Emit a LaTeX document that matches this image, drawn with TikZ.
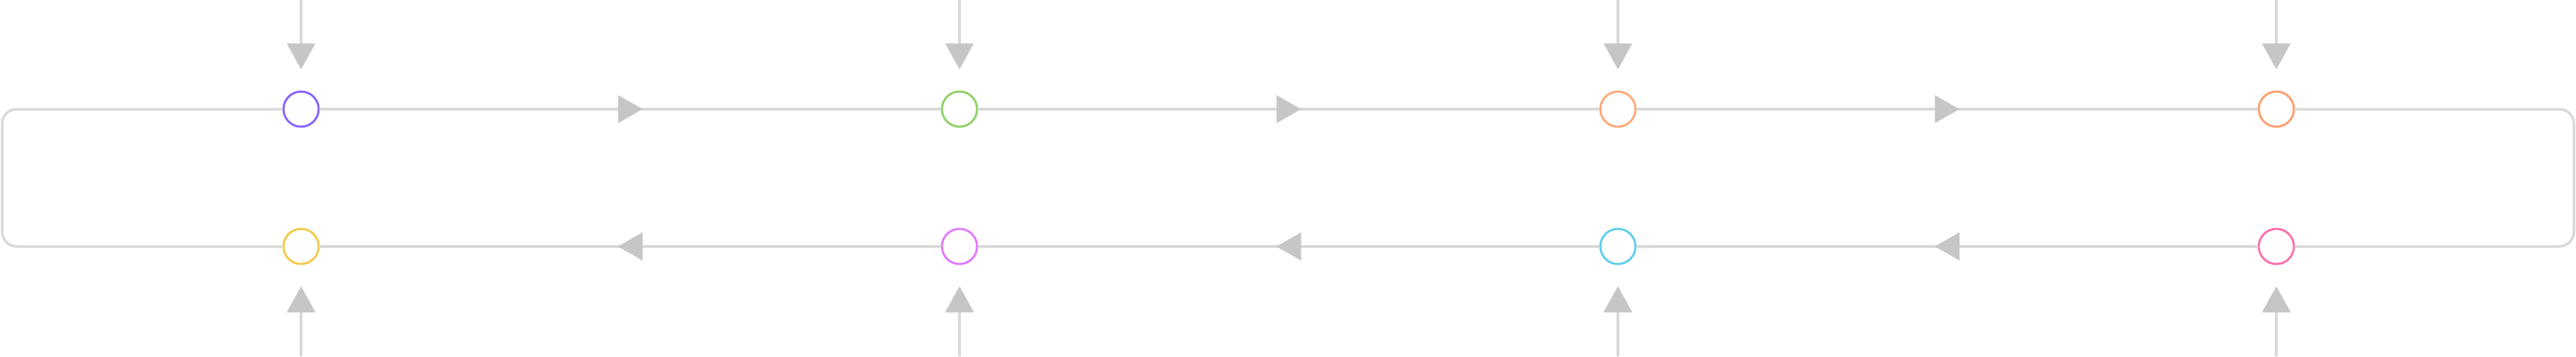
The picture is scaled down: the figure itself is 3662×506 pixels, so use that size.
\documentclass[tikz,border=0pt]{standalone}
\usetikzlibrary{arrows.meta,decorations.markings}
\definecolor{linegray}{HTML}{D8D8D8}
\definecolor{arrowgray}{HTML}{C6C6C6}
\definecolor{cpurple}{HTML}{8A63FF}
\definecolor{cgreen}{HTML}{8FD16A}
\definecolor{corange}{HTML}{FFA878}
\definecolor{corangeb}{HTML}{FF9E70}
\definecolor{cyellow}{HTML}{F5C94A}
\definecolor{cmagenta}{HTML}{E07AFF}
\definecolor{ccyan}{HTML}{5FCFEE}
\definecolor{cpink}{HTML}{FF6FAE}
\tikzset{
  port/.style={circle,draw=#1,line width=3pt,fill=white,minimum size=50pt,inner sep=0pt},
  flow/.style={draw=linegray,line width=3.5pt},
  midarrow/.style={postaction={decorate,decoration={markings,mark=at position 0.5 with {\fill[arrowgray] (-17.5pt,-20pt) -- (17.5pt,0pt) -- (-17.5pt,20pt) -- cycle;}}}},
  feed/.style={draw=linegray,line width=3.5pt,-{Triangle[length=37pt,width=40pt,fill=arrowgray,color=arrowgray]},shorten >=30pt}
}
\begin{document}
\begin{tikzpicture}[x=1pt,y=-1pt]
\useasboundingbox (0,0) rectangle (3662,506);
% loop lines first (under circles)
\coordinate (tl) at (3,155);
\coordinate (bl) at (3,350);
\coordinate (tr) at (3659,155);
\coordinate (br) at (3659,350);
\node[port=cpurple] (c1) at (428,155) {};
\node[port=cgreen] (c2) at (1364,155) {};
\node[port=corange] (c3) at (2300,155) {};
\node[port=corangeb] (c4) at (3236,155) {};
\node[port=cyellow] (c5) at (428,350) {};
\node[port=cmagenta] (c6) at (1364,350) {};
\node[port=ccyan] (c7) at (2300,350) {};
\node[port=cpink] (c8) at (3236,350) {};
\begin{scope}[on background layer/.try]
\end{scope}
\draw[flow,midarrow] (c1) -- (c2);
\draw[flow,midarrow] (c2) -- (c3);
\draw[flow,midarrow] (c3) -- (c4);
\draw[flow,midarrow] (c8) -- (c7);
\draw[flow,midarrow] (c7) -- (c6);
\draw[flow,midarrow] (c6) -- (c5);
\draw[flow,rounded corners=21pt] (c1.west) -- (tl) -- (bl) -- (c5.west);
\draw[flow,rounded corners=21pt] (c4.east) -- (tr) -- (br) -- (c8.east);
% feeds
\coordinate (f1) at (428,0);
\coordinate (f2) at (1364,0);
\coordinate (f3) at (2300,0);
\coordinate (f4) at (3236,0);
\coordinate (g1) at (428,506);
\coordinate (g2) at (1364,506);
\coordinate (g3) at (2300,506);
\coordinate (g4) at (3236,506);
\draw[feed] (f1) -- (c1);
\draw[feed] (f2) -- (c2);
\draw[feed] (f3) -- (c3);
\draw[feed] (f4) -- (c4);
\draw[feed] (g1) -- (c5);
\draw[feed] (g2) -- (c6);
\draw[feed] (g3) -- (c7);
\draw[feed] (g4) -- (c8);
\end{tikzpicture}
\end{document}
